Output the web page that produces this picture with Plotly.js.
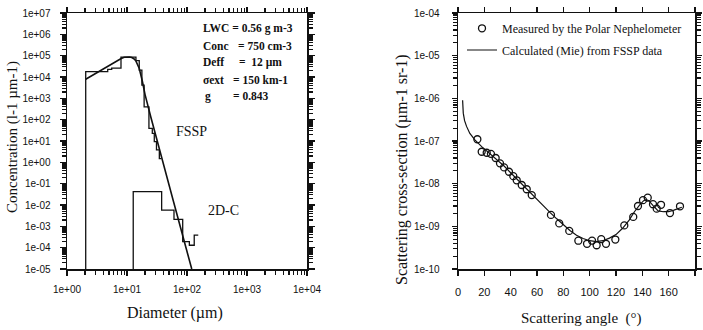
<!DOCTYPE html>
<html>
<head>
<meta charset="utf-8">
<script src="https://cdn.plot.ly/plotly-3.0.1.min.js"></script>
<style>html,body{margin:0;padding:0;background:#fff}#chart{width:703px;height:330px}</style>
</head>
<body>
<div id="chart"></div>
<script>
// ---- Left panel: size distribution ----
const curveDiam = [2.05, 3, 4, 5, 6, 7, 8, 9, 10, 11, 12, 13, 14, 15, 16, 18, 20, 25, 30, 40, 50, 60, 80, 100, 120];
const curveConc = [7.8e3, 1.5e4, 2.4e4, 3.4e4, 4.6e4, 6.0e4, 7.4e4, 8.4e4, 8.8e4, 8.7e4, 8.2e4, 7.2e4, 5.8e4, 4.0e4, 2.5e4, 6.5e3, 1.5e3, 1.3e2, 18, 0.9, 0.09, 0.0135, 6.7e-4, 6.6e-5, 1e-5];
const fsspDiam = [2.05, 2.05, 4.77, 5.56, 7.94, 14.1, 16, 17.7, 19.3, 23.2, 26.4, 28.5, 31, 34.6, 37];
const fsspConc = [1e-6, 1.8e4, 2.3e4, 2.6e4, 8.5e4, 5.8e4, 2.1e4, 4.2e3, 4e2, 39, 23, 9.3, 3.8, 1.5, 1.5];
const twodcDiam = [12.7, 12.7, 37.8, 60.7, 84.8, 109.5, 132, 154];
const twodcConc = [1e-6, 0.042, 5.8e-3, 2.1e-3, 1.9e-4, 1.3e-4, 3.9e-4, 3.9e-4];
const leftXTickVals = [1, 10, 100, 1000, 10000];
const leftXTickText = ["1e+00", "1e+01", "1e+02", "1e+03", "1e+04"];
const leftYTickVals = [1e7, 1e6, 1e5, 1e4, 1e3, 1e2, 1e1, 1, 1e-1, 1e-2, 1e-3, 1e-4, 1e-5];
const leftYTickText = ["1e+07", "1e+06", "1e+05", "1e+04", "1e+03", "1e+02", "1e+01", "1e+00", "1e-01", "1e-02", "1e-03", "1e-04", "1e-05"];
const paramLabels = ["Conc", "Deff", "\u03c3ext", "g"];
const paramValues = ["= 750 cm-3", "=  12 \u00b5m", "= 150 km-1", "= 0.843"];
const lwcLine = "LWC = 0.56 g m-3";

// ---- Right panel: phase function ----
const measAngle = [14.7, 18, 21.8, 25, 28.6, 31.9, 35, 38.7, 42, 44.6, 48.4, 52.2, 56, 70.6, 76.9, 84.5, 91.4, 98, 101.8, 105.3, 108.8, 112.4, 119.5, 126.3, 133.1, 136.7, 140.5, 144.1, 148.1, 150.9, 154.2, 161, 168.6];
const measValue = [1.1e-7, 5.6e-8, 5.3e-8, 5e-8, 4e-8, 3e-8, 2.4e-8, 1.9e-8, 1.5e-8, 1.2e-8, 9.3e-9, 7.4e-9, 5.4e-9, 1.85e-9, 1.17e-9, 7.8e-10, 4.6e-10, 3.9e-10, 4.6e-10, 3.6e-10, 5e-10, 3.9e-10, 4.9e-10, 1.05e-9, 1.66e-9, 3e-9, 4.1e-9, 4.7e-9, 3.3e-9, 2.6e-9, 3.2e-9, 2.05e-9, 2.95e-9];
const mieAngle = [3.5, 4, 5, 6.5, 9, 13, 18, 22, 26, 30, 35, 40, 45, 50, 55, 60, 65, 70, 75, 80, 85, 90, 95, 100, 105, 110, 115, 120, 125, 130, 134, 138, 141, 143, 145, 148, 152, 156, 160, 164, 168, 170];
const mieValue = [9e-7, 4.5e-7, 3e-7, 2.2e-7, 1.5e-7, 1.05e-7, 7.4e-8, 5.8e-8, 4.6e-8, 3.7e-8, 2.6e-8, 1.8e-8, 1.25e-8, 8.6e-9, 6e-9, 4.2e-9, 3e-9, 2.1e-9, 1.5e-9, 1.1e-9, 8e-10, 6.2e-10, 5.2e-10, 4.6e-10, 4.4e-10, 4.6e-10, 5.3e-10, 6.4e-10, 9e-10, 1.4e-9, 2.2e-9, 3.2e-9, 4e-9, 4.2e-9, 4.0e-9, 3.1e-9, 2.3e-9, 2.2e-9, 2.2e-9, 2.4e-9, 2.7e-9, 2.8e-9];
const rightXTickVals = [0, 20, 40, 60, 80, 100, 120, 140, 160, 180];
const rightYTickVals = [1e-4, 1e-5, 1e-6, 1e-7, 1e-8, 1e-9, 1e-10];
const rightYTickText = ["1e-04", "1e-05", "1e-06", "1e-07", "1e-08", "1e-09", "1e-10"];

// minor tick positions (2..9 within each decade) for the log axes
function minorLogTicks(lo, hi) {
  const out = [];
  for (let e = lo; e < hi; e++) for (let k = 2; k <= 9; k++) out.push(k * Math.pow(10, e));
  return out;
}

const W = 703, H = 330;
const M = {l: 20, r: 4, t: 4, b: 16};
const PW = W - M.l - M.r, PH = H - M.t - M.b;
const px = v => (v - M.l) / PW, py = v => 1 - (v - M.t) / PH;
const sans = "Liberation Sans, Arial, sans-serif";
const serif = "Liberation Serif, Times New Roman, serif";

const traces = [
  {x: curveDiam, y: curveConc, xaxis: 'x', yaxis: 'y', mode: 'lines', line: {color: '#111', width: 1.6}, showlegend: false},
  {x: fsspDiam, y: fsspConc, xaxis: 'x', yaxis: 'y', mode: 'lines', line: {color: '#111', width: 1.3, shape: 'hv'}, showlegend: false},
  {x: twodcDiam, y: twodcConc, xaxis: 'x', yaxis: 'y', mode: 'lines', line: {color: '#111', width: 1.3, shape: 'hv'}, showlegend: false},
  {x: measAngle, y: measValue, xaxis: 'x2', yaxis: 'y2', mode: 'markers', name: 'Measured by the Polar Nephelometer',
   marker: {symbol: 'circle-open', size: 7, color: '#111', line: {width: 1.3, color: '#111'}}, legend: 'legend'},
  {x: mieAngle, y: mieValue, xaxis: 'x2', yaxis: 'y2', mode: 'lines', name: 'Calculated (Mie) from FSSP data',
   line: {color: '#111', width: 1.2}, legend: 'legend2'}
];

const axBase = {
  showline: true, linecolor: '#111', linewidth: 1.5, mirror: 'ticks',
  ticks: 'outside', tickcolor: '#111', tickwidth: 1.5, showgrid: false, zeroline: false,
  tickfont: {family: sans, size: 10, color: '#111'}
};
const minorBase = {tickmode: 'array', ticks: 'outside', ticklen: 4, tickcolor: '#111', tickwidth: 1.2, showgrid: false};

const annotations = [];
const labelY = [45.7, 62, 79.7, 96];
const valueX = [236, 236.7, 230.7, 230.7];
const labelX = [200.7, 200.7, 200.7, 203];
const boldFont = {family: serif, size: 11.5, color: '#111'};
annotations.push({xref: 'paper', yref: 'paper', x: px(200.7), y: py(28.3), xanchor: 'left', yanchor: 'middle',
  text: '<b>' + lwcLine + '</b>', showarrow: false, font: boldFont});
for (let i = 0; i < paramLabels.length; i++) {
  annotations.push({xref: 'paper', yref: 'paper', x: px(labelX[i]), y: py(labelY[i]), xanchor: 'left', yanchor: 'middle',
    text: '<b>' + paramLabels[i] + '</b>', showarrow: false, font: boldFont});
  annotations.push({xref: 'paper', yref: 'paper', x: px(valueX[i]), y: py(labelY[i]), xanchor: 'left', yanchor: 'middle',
    text: '<b>' + paramValues[i] + '</b>', showarrow: false, font: boldFont});
}
annotations.push({xref: 'paper', yref: 'paper', x: px(191), y: py(131.7), xanchor: 'center', yanchor: 'middle',
  text: 'FSSP', showarrow: false, font: {family: serif, size: 14, color: '#111'}});
annotations.push({xref: 'paper', yref: 'paper', x: px(223.3), y: py(210), xanchor: 'center', yanchor: 'middle',
  text: '2D-C', showarrow: false, font: {family: serif, size: 14, color: '#111'}});
// axis titles
annotations.push({xref: 'paper', yref: 'paper', x: px(175), y: py(313), xanchor: 'center', yanchor: 'middle',
  text: 'Diameter (\u00b5m)', showarrow: false, font: {family: serif, size: 16, color: '#111'}});
annotations.push({xref: 'paper', yref: 'paper', x: px(581), y: py(318), xanchor: 'center', yanchor: 'middle',
  text: 'Scattering angle  (\u00b0)', showarrow: false, font: {family: serif, size: 15, color: '#111'}});
annotations.push({xref: 'paper', yref: 'paper', x: px(13), y: py(137), xanchor: 'center', yanchor: 'middle', textangle: -90,
  text: 'Concentration (l-1 \u00b5m-1)', showarrow: false, font: {family: serif, size: 15, color: '#111'}});
annotations.push({xref: 'paper', yref: 'paper', x: px(402), y: py(170), xanchor: 'center', yanchor: 'middle', textangle: -90,
  text: 'Scattering cross-section (\u00b5m-1 sr-1)', showarrow: false, font: {family: serif, size: 16, color: '#111'}});

const legendBase = {bgcolor: 'rgba(0,0,0,0)', borderwidth: 0, font: {family: serif, size: 12, color: '#111'},
  xanchor: 'left', yanchor: 'middle', xref: 'paper', yref: 'paper'};

const layout = {
  width: W, height: H, margin: M, showlegend: true,
  xaxis: Object.assign({}, axBase, {type: 'log', domain: [px(67), px(307)], range: [0, 4], anchor: 'y',
    tickmode: 'array', tickvals: leftXTickVals, ticktext: leftXTickText, ticklen: 5, ticklabelstandoff: 5,
    minor: Object.assign({}, minorBase, {tickvals: minorLogTicks(0, 4)})}),
  yaxis: Object.assign({}, axBase, {type: 'log', domain: [py(269), py(13)], range: [-5, 7], anchor: 'x',
    tickmode: 'array', tickvals: leftYTickVals, ticktext: leftYTickText, ticklen: 6, ticklabelstandoff: 7,
    minor: Object.assign({}, minorBase, {tickvals: minorLogTicks(-5, 7)})}),
  xaxis2: Object.assign({}, axBase, {domain: [px(458), px(695)], range: [0, 180], anchor: 'y2',
    tickmode: 'array', tickvals: rightXTickVals, ticklen: 5, ticklabelstandoff: 7,
    tickfont: {family: sans, size: 11, color: '#111'}}),
  yaxis2: Object.assign({}, axBase, {type: 'log', domain: [py(269), py(13)], range: [-10, -4], anchor: 'x2',
    tickmode: 'array', tickvals: rightYTickVals, ticktext: rightYTickText, ticklen: 5, ticklabelstandoff: 10,
    minor: Object.assign({}, minorBase, {tickvals: minorLogTicks(-10, -4)})}),
  legend: Object.assign({}, legendBase, {x: px(462), y: py(28.3)}),
  legend2: Object.assign({}, legendBase, {x: px(462), y: py(50)}),
  annotations: annotations
};

Plotly.newPlot('chart', traces, layout, {displayModeBar: false, staticPlot: true});
</script>
</body>
</html>
